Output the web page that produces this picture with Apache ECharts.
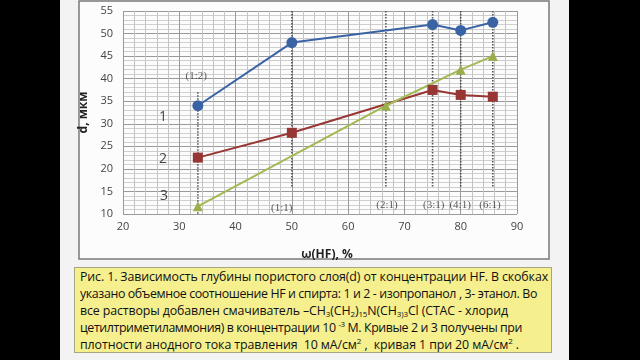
<!DOCTYPE html>
<html>
<head>
<meta charset="utf-8">
<script src="https://cdn.jsdelivr.net/npm/echarts@6/dist/echarts.min.js"></script>
<style>
html,body{margin:0;padding:0;background:#000;}
#wrap{position:relative;width:640px;height:360px;overflow:hidden;background:#000;}
#chart{position:absolute;left:0;top:0;width:640px;height:360px;}
#cap{position:absolute;left:74px;top:267px;width:478px;height:86px;background:#f6ef8e;border:1px solid #a8a585;
 font-family:"Open Sans","Noto Sans",sans-serif;font-size:12.4px;line-height:17px;color:#111;padding:0 0 0 5px;box-sizing:border-box;white-space:nowrap;}
#cap .l{height:17px;}
#cap .l span.t{display:inline-block;}
#cap sub,#cap sup{font-size:8px;line-height:0;}
#cap sub{vertical-align:-2px;}
#cap sup{vertical-align:5px;}
</style>
</head>
<body>
<div id="wrap">
<div id="chart"></div>
<div id="cap">
<div class="l"><span class="t">Рис. 1. Зависимость глубины пористого слоя(d) от концентрации HF. В скобках</span></div>
<div class="l"><span class="t">указано объемное соотношение HF и спирта: 1 и 2 - изопропанол , 3- этанол. Во</span></div>
<div class="l"><span class="t">все растворы добавлен смачиватель –CH<sub>3</sub>(CH<sub>2</sub>)<sub>15</sub>N(CH<sub>3)3</sub>Cl (CTAC - хлорид</span></div>
<div class="l"><span class="t">цетилтриметиламмония) в концентрации 10 <sup>-3</sup> М. Кривые 2 и 3 получены при</span></div>
<div class="l"><span class="t">плотности анодного тока травления &nbsp;10 мА/см<sup>2</sup> , &nbsp;кривая 1 при 20 мА/см<sup>2</sup> .</span></div>
</div>
</div>
<script>
// ---- data ----
var x1 = [33.3, 50, 75, 80, 85.7];
var d1 = [34, 48, 52, 50.7, 52.5];
var x2 = [33.3, 50, 75, 80, 85.7];
var d2 = [22.5, 28, 37.5, 36.4, 36];
var x3 = [33.3, 66.7, 80, 85.7];
var d3 = [11.7, 34, 42, 45];
var guideX = [33.3, 50, 66.7, 75, 80, 85.7];
var guideTop = [37, 55, 55, 55, 55, 55];
var guideBottom = [10, 16, 16, 16, 16, 16];
var ratioText = ['(1:2)', '(1:1)', '(2:1)', '(3:1)', '(4:1)', '(6:1)'];
var ratioX = [33.0, 48.2, 66.9, 75.2, 79.9, 85.2];
var ratioY = [40.6, 11.3, 12.0, 12.0, 12.0, 12.0];
var curveText = ['1', '2', '3'];
var curveX = [27.1, 27.1, 27.3];
var curveY = [31.5, 22.2, 13.9];
var xTicks = [20, 30, 40, 50, 60, 70, 80, 90];
var yTicks = [10, 15, 20, 25, 30, 35, 40, 45, 50, 55];
var captionWidths = [468, 457, 428, 442, 439];

function pairs(xs, ys){ return xs.map(function(x,i){ return [x, ys[i]]; }); }

// fit caption lines to the widths seen in the reference
Array.prototype.forEach.call(document.querySelectorAll('#cap .t'), function(el, i){
  var w = el.getBoundingClientRect().width;
  var n = el.textContent.length;
  var ls = (captionWidths[i] - w) / n;
  el.style.letterSpacing = ls.toFixed(3) + 'px';
});

var chart = echarts.init(document.getElementById('chart'), null, {renderer:'canvas'});
var guideSeries = guideX.map(function(x,i){
  return {type:'line', silent:true, symbol:'none', z:2,
    data:[[x, guideTop[i]], [x, guideBottom[i]]],
    lineStyle:{type:[1.5,1.5], color:'#555', width:1.6}};
});
var option = {
  animation:false,
  graphic:[
    {type:'rect', z:-10, shape:{x:60,y:0,width:509,height:360}, style:{fill:'#f3f3f3'}},
    {type:'rect', z:-9, shape:{x:79,y:1,width:470,height:258}, style:{fill:'#fcfcfc', stroke:'#7a7a7a', lineWidth:1.5}}
  ],
  grid:{left:123, right:123, top:11, bottom:146, show:false},
  xAxis:{
    type:'value', min:xTicks[0], max:xTicks[xTicks.length-1], interval:10,
    name:'ω(HF), %', nameLocation:'middle', nameGap:35,
    nameTextStyle:{fontFamily:'Open Sans', fontWeight:'bold', fontSize:12, color:'#222', padding:[0,0,0,14]},
    axisLine:{show:false}, axisTick:{show:false},
    axisLabel:{fontFamily:'Open Sans', fontSize:11, color:'#444', margin:7},
    splitLine:{show:true, lineStyle:{color:'#9a9a9a', width:1}},
    minorTick:{show:false, splitNumber:5},
    minorSplitLine:{show:true, lineStyle:{color:'#c4c4c4', width:1}}
  },
  yAxis:{
    type:'value', min:yTicks[0], max:yTicks[yTicks.length-1], interval:5,
    name:'d, мкм', nameLocation:'middle', nameGap:30, nameRotate:90,
    nameTextStyle:{fontFamily:'Open Sans', fontWeight:'bold', fontSize:12, color:'#222'},
    axisLine:{show:false}, axisTick:{show:false},
    axisLabel:{fontFamily:'Open Sans', fontSize:11, color:'#444', margin:10},
    splitLine:{show:true, lineStyle:{color:'#9a9a9a', width:1}},
    minorTick:{show:false, splitNumber:5},
    minorSplitLine:{show:true, lineStyle:{color:'#cfcfcf', width:1}}
  },
  series:guideSeries.concat([
    {type:'line', name:'1', data:pairs(x1,d1), symbol:'circle', symbolSize:11,
     lineStyle:{color:'#3a63a6', width:2}, itemStyle:{color:'#3a63a6'}, z:5},
    {type:'line', name:'2', data:pairs(x2,d2), symbol:'rect', symbolSize:10,
     lineStyle:{color:'#983634', width:2}, itemStyle:{color:'#983634'}, z:5},
    {type:'line', name:'3', data:pairs(x3,d3), symbol:'triangle', symbolSize:10,
     lineStyle:{color:'#a3b954', width:2}, itemStyle:{color:'#9aae4c'}, z:5},
    {type:'scatter', symbolSize:0, silent:true,
     data:ratioText.map(function(t,i){ return {name:t, value:[ratioX[i], ratioY[i]]}; }),
     label:{show:true, position:'inside', formatter:'{b}', fontFamily:'Liberation Serif', fontSize:11, color:'#333'}},
    {type:'scatter', symbolSize:0, silent:true,
     data:curveText.map(function(t,i){ return {name:t, value:[curveX[i], curveY[i]]}; }),
     label:{show:true, position:'inside', formatter:'{b}', fontFamily:'Open Sans', fontSize:14, color:'#111'}}
  ])
};
chart.setOption(option);
</script>
</body>
</html>
